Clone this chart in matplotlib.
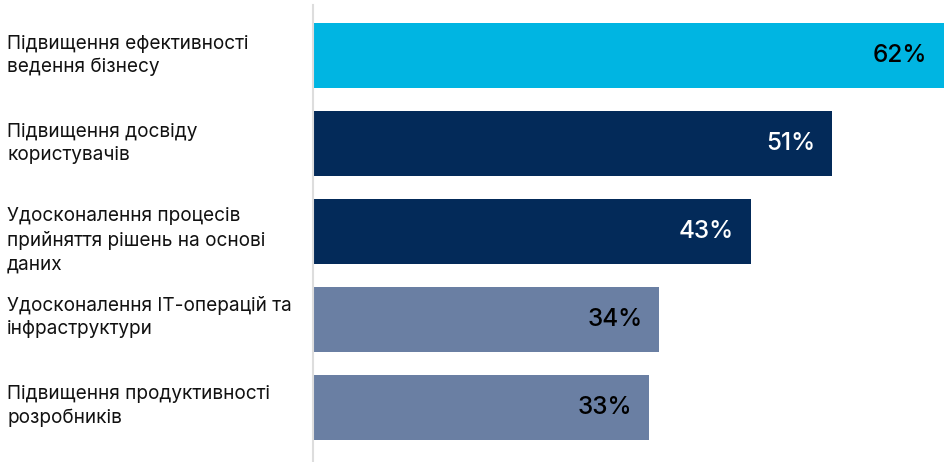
import matplotlib
matplotlib.use("Agg")
import matplotlib.pyplot as plt

categories = [
    "Підвищення ефективності\nведення бізнесу",
    "Підвищення досвіду\nкористувачів",
    "Удосконалення процесів\nприйняття рішень на основі\nданих",
    "Удосконалення ІТ-операцій та\nінфраструктури",
    "Підвищення продуктивності\nрозробників",
]
values = [62, 51, 43, 34, 33]
bar_colors = ["#00B5E2", "#032A59", "#032A59", "#6A7FA3", "#6A7FA3"]
value_colors = ["#000000", "#FFFFFF", "#FFFFFF", "#000000", "#000000"]

plt.rcParams["font.family"] = ["Inter", "DejaVu Sans"]

W, H = 950, 462
fig = plt.figure(figsize=(W / 100, H / 100), dpi=100)
ax = fig.add_axes([313 / W, 0, (944 - 313) / W, 457 / H])

ypos = list(range(len(values)))
ax.barh(ypos, values, height=0.74, color=bar_colors)
ax.set_xlim(0, 62)
ax.set_ylim(4.62, -0.574)

for y, v, c in zip(ypos, values, value_colors):
    ax.annotate(f"{v}%", xy=(v, y), xytext=(-12, 0), textcoords="offset points",
                ha="right", va="center", fontsize=17.5, color=c, fontweight="medium")

label_offsets = [0, 0, 0.1, -0.03, -0.02]
for y, lab, off in zip(ypos, categories, label_offsets):
    ax.text(-306 / ((944 - 313) / 62), y + off, lab, ha="left", va="center",
            fontsize=13.7, color="#111111", linespacing=1.38, clip_on=False)

for s in ["top", "right", "bottom"]:
    ax.spines[s].set_visible(False)
ax.spines["left"].set_color("#DDDDDD")
ax.spines["left"].set_linewidth(1.5)
ax.set_xticks([])
ax.set_yticks([])

fig.savefig("out.png", dpi=100)
